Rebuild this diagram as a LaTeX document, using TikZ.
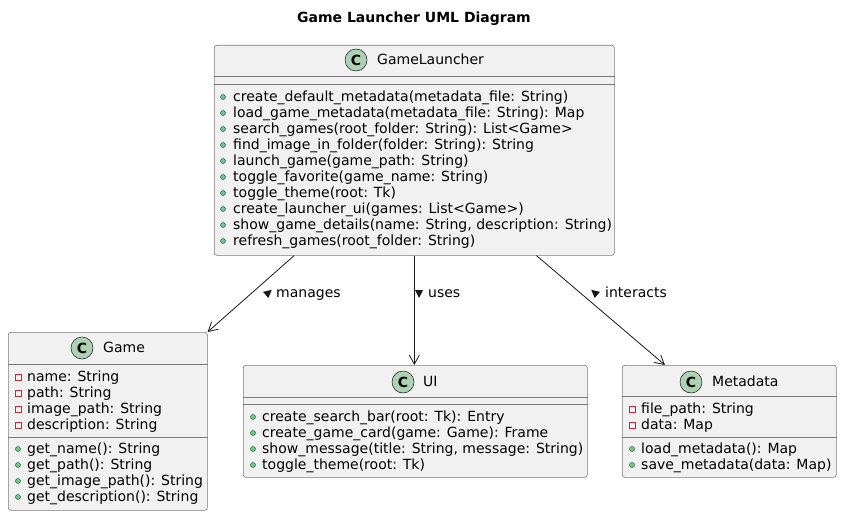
\documentclass[tikz,border=0pt]{standalone}
\usepackage{fontspec}
\setmainfont{DejaVu Sans}
\usetikzlibrary{arrows.meta, calc, positioning}
\definecolor{boxfill}{HTML}{F1F1F1}
\definecolor{boxline}{HTML}{181818}
\definecolor{boxedge}{HTML}{7A7A7A}
\definecolor{iconfill}{HTML}{ADD1B2}
\definecolor{pubfill}{HTML}{84BE84}
\definecolor{publine}{HTML}{038048}
\definecolor{privline}{HTML}{C82930}

\begin{document}
\begin{tikzpicture}[x=1pt, y=-1pt,
        font=\fontsize{14}{16}\selectfont,
        umlclass/.style={rectangle, draw=boxedge, fill=boxfill, rounded corners=2.5pt, line width=0.6pt, anchor=north west, inner sep=0pt},
        icon/.style={circle, draw=boxline, fill=iconfill, minimum size=22pt, inner sep=0pt, line width=0.5pt, font=\fontsize{14}{16}\selectfont\bfseries},
        member/.style={anchor=base west, inner sep=0pt},
        pub/.style={circle, draw=publine, fill=pubfill, minimum size=5pt, inner sep=0pt, line width=0.5pt},
        priv/.style={rectangle, draw=privline, minimum size=6pt, inner sep=0pt, line width=0.8pt},
        sep/.style={draw=boxedge, line width=0.6pt},
        link/.style={draw=boxline, line width=0.8pt, -{Straight Barb[length=9pt, width=10pt]}}
    ]
        \useasboundingbox (0,0) rectangle (842,516);
        \node[font=\fontsize{14}{16}\selectfont\bfseries] (title) at (414,19) {Game Launcher UML Diagram};

        % GameLauncher
        \node[umlclass, minimum width=400, minimum height=210] (launcher) at (214,45) {};
        \node[icon] (launcherC) at (356,60) {C};
        \node[member] (launcherName) at (377,64.5) {GameLauncher};
        \draw[sep] (launcher.west |- 0,76) -- (launcher.east |- 0,76);
        \draw[sep] (launcher.west |- 0,84) -- (launcher.east |- 0,84);
        \foreach \m [count=\i from 0] in {create\_default\_metadata(metadata\_file: String),
            load\_game\_metadata(metadata\_file: String): Map,
            search\_games(root\_folder: String): List<Game>,
            find\_image\_in\_folder(folder: String): String,
            launch\_game(game\_path: String),
            toggle\_favorite(game\_name: String),
            toggle\_theme(root: Tk),
            create\_launcher\_ui(games: List<Game>),
            {show\_game\_details(name: String, description: String)},
            refresh\_games(root\_folder: String)} {
            \node[pub] (launcherDot\i) at (223,97+16*\i) {};
            \node[member] (launcherM\i) at (233,101.5+16*\i) {\m};
        }

        % Game
        \node[umlclass, minimum width=199, minimum height=178] (game) at (8,332) {};
        \node[icon] (gameC) at (82,348) {C};
        \node[member] (gameName) at (103,352.5) {Game};
        \draw[sep] (game.west |- 0,364) -- (game.east |- 0,364);
        \draw[sep] (game.west |- 0,437) -- (game.east |- 0,437);
        \foreach \a [count=\i from 0] in {name: String, path: String, image\_path: String, description: String} {
            \node[priv] (gameBox\i) at (18,377+16*\i) {};
            \node[member] (gameA\i) at (27,381.5+16*\i) {\a};
        }
        \foreach \m [count=\i from 0] in {get\_name(): String, get\_path(): String, get\_image\_path(): String, get\_description(): String} {
            \node[pub] (gameDot\i) at (18,449+16*\i) {};
            \node[member] (gameM\i) at (27,453.5+16*\i) {\m};
        }

        % UI
        \node[umlclass, minimum width=344, minimum height=112] (ui) at (243,365) {};
        \node[icon] (uiC) at (403,382) {C};
        \node[member] (uiName) at (423,386.5) {UI};
        \draw[sep] (ui.west |- 0,397) -- (ui.east |- 0,397);
        \draw[sep] (ui.west |- 0,404) -- (ui.east |- 0,404);
        \foreach \m [count=\i from 0] in {create\_search\_bar(root: Tk): Entry,
            create\_game\_card(game: Game): Frame,
            {show\_message(title: String, message: String)},
            toggle\_theme(root: Tk)} {
            \node[pub] (uiDot\i) at (253,417+16*\i) {};
            \node[member] (uiM\i) at (262,421.5+16*\i) {\m};
        }

        % Metadata
        \node[umlclass, minimum width=214, minimum height=112] (meta) at (622,365) {};
        \node[icon] (metaC) at (691,382) {C};
        \node[member] (metaName) at (712,386.5) {Metadata};
        \draw[sep] (meta.west |- 0,396) -- (meta.east |- 0,396);
        \draw[sep] (meta.west |- 0,437) -- (meta.east |- 0,437);
        \foreach \a [count=\i from 0] in {file\_path: String, data: Map} {
            \node[priv] (metaBox\i) at (632,409+16*\i) {};
            \node[member] (metaA\i) at (641,413.5+16*\i) {\a};
        }
        \foreach \m [count=\i from 0] in {load\_metadata(): Map, save\_metadata(data: Map)} {
            \node[pub] (metaDot\i) at (632,449+16*\i) {};
            \node[member] (metaM\i) at (641,453.5+16*\i) {\m};
        }

        % links
        \draw[link] ($(launcher.south west)!0.2!(launcher.south east)$) -- (game.north east);
        \draw[link] (launcher.south) -- (launcher.south |- ui.north);
        \draw[link] ($(launcher.south west)!0.805!(launcher.south east)$) -- ($(meta.north west)!0.2!(meta.north east)$);

        \fill[boxline] (271.8,289.75) -- (268.3,298.0) -- (263.1,291.9) -- cycle;
        \node[member] (managesLabel) at (276,297.5) {manages};
        \fill[boxline] (419,298) -- (423,290) -- (415,290) -- cycle;
        \node[member] (usesLabel) at (428,297.5) {uses};
        \fill[boxline] (591.2,289.75) -- (599.9,291.9) -- (594.7,298.0) -- cycle;
        \node[member] (interactsLabel) at (605,297.5) {interacts};
    \end{tikzpicture}
\end{document}
